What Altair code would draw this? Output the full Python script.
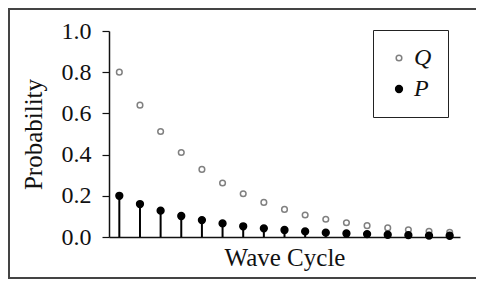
import altair as alt
import pandas as pd

# ---- data ----
cycles = [1, 2, 3, 4, 5, 6, 7, 8, 9, 10, 11, 12, 13, 14, 15, 16, 17]
q_values = [0.80, 0.64, 0.512, 0.41, 0.328, 0.262, 0.21, 0.168, 0.134,
            0.107, 0.086, 0.069, 0.055, 0.044, 0.035, 0.028, 0.023]
p_values = [0.20, 0.16, 0.128, 0.102, 0.082, 0.066, 0.052, 0.042, 0.034,
            0.027, 0.021, 0.017, 0.014, 0.011, 0.009, 0.007, 0.006]
series_names = ["Q", "P"]
y_tick_values = [0.0, 0.1, 0.2, 0.3, 0.4, 0.5, 0.6, 0.7, 0.8, 0.9, 1.0]

long_rows = []
for c, q in zip(cycles, q_values):
    long_rows.append({"cycle": c, "prob": q, "series": "Q"})
for c, p in zip(cycles, p_values):
    long_rows.append({"cycle": c, "prob": p, "series": "P"})
df_long = pd.DataFrame(long_rows)
df_p = pd.DataFrame({"cycle": cycles, "prob": p_values})

SERIF = "Liberation Serif"

x_enc = alt.X("cycle:Q",
              scale=alt.Scale(domain=[0.5, 17.5], nice=False, zero=False),
              axis=alt.Axis(title="Wave Cycle", ticks=False, labels=False, grid=False,
                            domainColor="#111111", domainWidth=1.5, titlePadding=8))
y_enc = alt.Y("prob:Q",
              scale=alt.Scale(domain=[0, 1], nice=False),
              axis=alt.Axis(title="Probability", values=y_tick_values, grid=False,
                            tickSize=7, tickColor="#111111", tickWidth=1.2,
                            domainColor="#111111", domainWidth=1.5,
                            labelPadding=11, titlePadding=15,
                            labelExpr="round(datum.value*10) % 2 == 0 ? format(datum.value, '.1f') : ''"))

stems = alt.Chart(df_p).mark_rule(color="#000000", strokeWidth=2).encode(
    x=x_enc,
    y=alt.Y("prob:Q"),
    y2=alt.datum(0),
)

leg = alt.Legend(title=None, labelExpr="datum.label + '       '")
points = alt.Chart(df_long).mark_point(strokeWidth=1.5, opacity=1).encode(
    x=x_enc,
    y=y_enc,
    stroke=alt.Stroke("series:N", scale=alt.Scale(domain=series_names, range=["#808080", "#000000"]), legend=leg),
    fill=alt.Fill("series:N", scale=alt.Scale(domain=series_names, range=["#ffffff", "#000000"]), legend=leg),
    size=alt.Size("series:N", scale=alt.Scale(domain=series_names, range=[32, 46]), legend=leg),
)

# decorative outer frame (left, top and bottom edges; the right edge lies outside the page)
frame_data = alt.Data(values=[{}])
frame_left = alt.Chart(frame_data).mark_rule(color="#444444", strokeWidth=2).encode(
    x=alt.value(-100), y=alt.value(-23), y2=alt.value(248))
frame_top = alt.Chart(frame_data).mark_rule(color="#444444", strokeWidth=2).encode(
    x=alt.value(-101), x2=alt.value(400), y=alt.value(-22))
frame_bottom = alt.Chart(frame_data).mark_rule(color="#444444", strokeWidth=2).encode(
    x=alt.value(-101), x2=alt.value(400), y=alt.value(247))

chart = alt.layer(stems, points, frame_left, frame_top, frame_bottom).properties(
    width=351, height=206,
    autosize=alt.AutoSizeParams(type="none"),
    padding={"left": 101, "top": 23, "right": 16, "bottom": 43},
).configure_view(stroke=None).configure_axis(
    labelFont=SERIF, labelFontSize=24, labelColor="#111111",
    titleFont=SERIF, titleFontSize=25, titleFontWeight="normal", titleColor="#111111",
).configure_legend(
    orient="none", legendX=264, legendY=-1,
    strokeColor="#222222", fillColor="#ffffff", padding=16,
    symbolOffset=-2, labelOffset=3,
    labelFont=SERIF, labelFontStyle="italic", labelFontSize=24, labelColor="#111111",
    rowPadding=7, symbolStrokeWidth=1.5,
)

chart.save("out.html", embed_options={"renderer": "svg", "actions": False})
